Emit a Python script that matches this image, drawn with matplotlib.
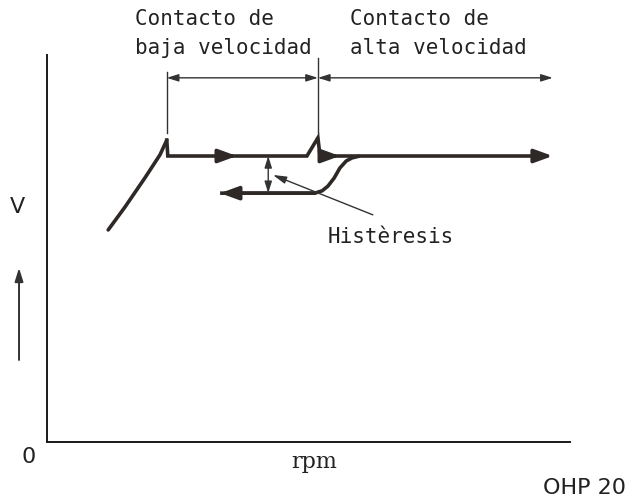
import numpy as np
import matplotlib.pyplot as plt

# schematic values, axes run 0..100 on both sides
rise_x = [11.7, 14.9, 18.7, 21.6, 22.9]
rise_y = [54.8, 60.7, 68.2, 74.2, 78.0]

upper_x = [22.9, 23.1, 49.7, 51.8, 52.2, 96.7]
upper_y = [78.0, 73.9, 73.9, 78.6, 73.9, 73.9]
upper_heads = [36.3, 56.0]

lower_x = [33.1, 51.2, 52.6, 53.7, 54.9, 56.0, 57.2, 58.3, 59.8]
lower_y = [64.3, 64.3, 64.9, 66.1, 68.2, 70.8, 72.6, 73.4, 73.9]

hyst_x = 42.3
hyst_y = [73.9, 64.3]
leader = [(43.2, 69.0), (62.3, 58.7)]

zone_edges = [22.9, 51.8, 96.7]
zone_y = 94.1
tick_top = [95.6, 99.2]
tick_bottom = 79.8

zone_labels = ["Contacto de\nbaja velocidad", "Contacto de\nalta velocidad"]
zone_label_x = [16.8, 57.9]

ink = '#2e2826'
thin = '#333333'

fig = plt.figure(figsize=(6.33, 4.97), dpi=100)
ax = fig.add_axes([47/633, 55/497, 523/633, 387/497])
ax.set_xlim(0, 100)
ax.set_ylim(0, 100)
for s in ['top', 'right']:
    ax.spines[s].set_visible(False)
for s in ['left', 'bottom']:
    ax.spines[s].set_linewidth(1.4)
    ax.spines[s].set_color('#1a1a1a')
ax.set_xticks([])
ax.set_yticks([])

# main curve
ax.plot(rise_x, rise_y, c=ink, lw=2.6, solid_capstyle='round')
ax.plot(upper_x[:-1], upper_y[:-1], c=ink, lw=2.6, solid_joinstyle='miter')
ax.plot(lower_x, lower_y, c=ink, lw=2.6, solid_capstyle='butt', solid_joinstyle='round')

big = dict(arrowstyle='-|>,head_length=0.55,head_width=0.2', mutation_scale=20,
           color=ink, lw=2.6, shrinkA=0, shrinkB=0)
ax.annotate('', xy=(upper_x[-1], upper_y[-1]), xytext=(upper_x[-2], upper_y[-2]), arrowprops=big)
ax.annotate('', xy=(lower_x[0], lower_y[0]), xytext=(lower_x[1], lower_y[1]), arrowprops=big)
for hx in upper_heads:
    ax.annotate('', xy=(hx, upper_y[2]), xytext=(hx - 2, upper_y[2]), arrowprops=big)

# hysteresis marker
small = dict(arrowstyle='<|-|>,head_length=0.7,head_width=0.22', mutation_scale=10,
             color=thin, lw=1.0, shrinkA=0, shrinkB=0)
ax.annotate('', xy=(hyst_x, hyst_y[0]), xytext=(hyst_x, hyst_y[1]), arrowprops=small)
ax.annotate('', xy=leader[0], xytext=leader[1],
            arrowprops=dict(arrowstyle='-|>,head_length=0.8,head_width=0.22', mutation_scale=10,
                            color=thin, lw=1.0, shrinkA=0, shrinkB=0))
ax.text(53.7, 53.0, 'Histèresis', fontsize=15, family='DejaVu Sans Mono',
        va='center', ha='left', color='#222222')

# speed zones
for i in range(2):
    ax.plot([zone_edges[i], zone_edges[i]], [tick_bottom, tick_top[i]], c=thin, lw=1.0)
    ax.annotate('', xy=(zone_edges[i], zone_y), xytext=(zone_edges[i + 1], zone_y),
                arrowprops=small, annotation_clip=False)
    ax.text(zone_label_x[i], 105.5, zone_labels[i], fontsize=15, family='DejaVu Sans Mono',
            va='center', ha='left', color='#222222', linespacing=1.55)

# axis labels
ax.text(-5.7, 60.7, 'V', fontsize=16, va='center', ha='center', color='#222222')
ax.annotate('', xy=(-5.35, 45.0), xytext=(-5.35, 21.2), annotation_clip=False,
            arrowprops=dict(arrowstyle='-|>,head_length=0.8,head_width=0.25', mutation_scale=10,
                            color=thin, lw=1.4, shrinkA=0, shrinkB=0))
ax.text(-3.6, -3.9, '0', fontsize=16, va='center', ha='center', color='#222222')
ax.text(51.1, -5.2, 'rpm', fontsize=16, family='DejaVu Serif', va='center', ha='center',
        color='#222222')

fig.text(0.924, 0.018, 'OHP 20', fontsize=16, ha='center', va='center', color='#222222')

fig.savefig('out.png', dpi=100)
